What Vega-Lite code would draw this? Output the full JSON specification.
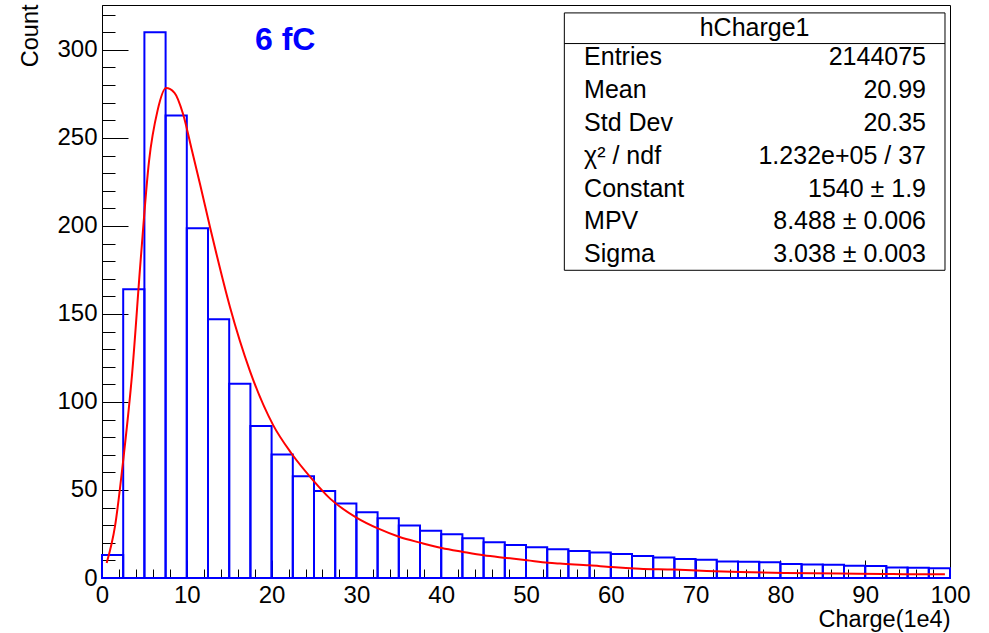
{
  "$schema": "https://vega.github.io/schema/vega-lite/v6.json",
  "width": 848,
  "height": 573,
  "autosize": {"type": "none"},
  "padding": {"left": 102, "top": 5, "right": 39, "bottom": 55},
  "background": "white",
  "resolve": {"axis": {"x": "independent", "y": "independent"}},
  "config": {
    "view": {"stroke": "black", "strokeWidth": 1},
    "axis": {
      "grid": false,
      "domainColor": "black",
      "domainWidth": 1,
      "tickColor": "black",
      "tickWidth": 1,
      "labelFont": "Liberation Sans",
      "labelFontSize": 24,
      "labelColor": "black",
      "titleFont": "Liberation Sans",
      "titleFontSize": 23.5,
      "titleFontWeight": "normal",
      "titleColor": "black"
    }
  },
  "datasets": {
    "bins": [
      {"lo": 0, "hi": 2.5, "count": 13},
      {"lo": 2.5, "hi": 5, "count": 164},
      {"lo": 5, "hi": 7.5, "count": 310},
      {"lo": 7.5, "hi": 10, "count": 262.7},
      {"lo": 10, "hi": 12.5, "count": 198.7},
      {"lo": 12.5, "hi": 15, "count": 147},
      {"lo": 15, "hi": 17.5, "count": 110.3},
      {"lo": 17.5, "hi": 20, "count": 86.3},
      {"lo": 20, "hi": 22.5, "count": 70.2},
      {"lo": 22.5, "hi": 25, "count": 57.8},
      {"lo": 25, "hi": 27.5, "count": 49.4},
      {"lo": 27.5, "hi": 30, "count": 42.3},
      {"lo": 30, "hi": 32.5, "count": 37.3},
      {"lo": 32.5, "hi": 35, "count": 33.9},
      {"lo": 35, "hi": 37.5, "count": 29.8},
      {"lo": 37.5, "hi": 40, "count": 26.9},
      {"lo": 40, "hi": 42.5, "count": 24.9},
      {"lo": 42.5, "hi": 45, "count": 22.6},
      {"lo": 45, "hi": 47.5, "count": 20.3},
      {"lo": 47.5, "hi": 50, "count": 18.8},
      {"lo": 50, "hi": 52.5, "count": 17.5},
      {"lo": 52.5, "hi": 55, "count": 16.4},
      {"lo": 55, "hi": 57.5, "count": 15.3},
      {"lo": 57.5, "hi": 60, "count": 14.5},
      {"lo": 60, "hi": 62.5, "count": 13.6},
      {"lo": 62.5, "hi": 65, "count": 12.5},
      {"lo": 65, "hi": 67.5, "count": 11.6},
      {"lo": 67.5, "hi": 70, "count": 10.8},
      {"lo": 70, "hi": 72.5, "count": 10.4},
      {"lo": 72.5, "hi": 75, "count": 9.4},
      {"lo": 75, "hi": 77.5, "count": 9.2},
      {"lo": 77.5, "hi": 80, "count": 8.9},
      {"lo": 80, "hi": 82.5, "count": 8.0},
      {"lo": 82.5, "hi": 85, "count": 7.6},
      {"lo": 85, "hi": 87.5, "count": 7.5},
      {"lo": 87.5, "hi": 90, "count": 7.0},
      {"lo": 90, "hi": 92.5, "count": 6.8},
      {"lo": 92.5, "hi": 95, "count": 5.9},
      {"lo": 95, "hi": 97.5, "count": 5.8},
      {"lo": 97.5, "hi": 100, "count": 5.5}
    ],
    "fit": [
      {"x": 0.55, "y": 8.5},
      {"x": 1.55, "y": 29.9},
      {"x": 2.55, "y": 69},
      {"x": 3.55, "y": 116},
      {"x": 4.55, "y": 180},
      {"x": 5.55, "y": 237},
      {"x": 6.55, "y": 265.5},
      {"x": 7.55, "y": 278.3},
      {"x": 8.55, "y": 275.6},
      {"x": 9.55, "y": 263.7},
      {"x": 10.55, "y": 244},
      {"x": 11.55, "y": 224},
      {"x": 12.74, "y": 199.3},
      {"x": 13.55, "y": 183},
      {"x": 15.09, "y": 153.9},
      {"x": 17.45, "y": 117.5},
      {"x": 20.2, "y": 86.7},
      {"x": 22.37, "y": 70.6},
      {"x": 24.9, "y": 55.5},
      {"x": 26.9, "y": 45.1},
      {"x": 30.0, "y": 34.3},
      {"x": 32.6, "y": 28.0},
      {"x": 35.1, "y": 23.3},
      {"x": 37.5, "y": 20.1},
      {"x": 40.06, "y": 17.0},
      {"x": 42.6, "y": 14.8},
      {"x": 45.0, "y": 12.9},
      {"x": 47.7, "y": 11.4},
      {"x": 50.1, "y": 10.1},
      {"x": 52.6, "y": 8.7},
      {"x": 54.0, "y": 8.2},
      {"x": 57.5, "y": 7.2},
      {"x": 60.1, "y": 6.2},
      {"x": 63.4, "y": 5.3},
      {"x": 67.4, "y": 4.8},
      {"x": 71.3, "y": 4.0},
      {"x": 75.2, "y": 3.4},
      {"x": 80.5, "y": 2.8},
      {"x": 87.0, "y": 2.5},
      {"x": 92.1, "y": 2.3},
      {"x": 95.3, "y": 2.1},
      {"x": 99.4, "y": 2.1}
    ]
  },
  "layer": [
    {
      "data": {"name": "bins"},
      "mark": {"type": "rect", "fill": "white", "fillOpacity": 0, "stroke": "#0000ff", "strokeWidth": 2},
      "encoding": {
        "x": {
          "field": "lo", "type": "quantitative",
          "scale": {"domain": [0, 100], "nice": false, "zero": false},
          "axis": {
            "orient": "bottom",
            "title": "Charge(1e4)",
            "values": [0,10,20,30,40,50,60,70,80,90,100],
            "tickSize": -18,
            "labelPadding": 23,
            "labelFlush": false,
            "labelOverlap": false,
            "titleAnchor": "end",
            "titleAlign": "right",
            "titleBaseline": "alphabetic",
            "titleX": 848,
            "titleY": 48
          }
        },
        "x2": {"field": "hi"},
        "y": {
          "field": "count", "type": "quantitative",
          "scale": {"domain": [0, 325.5], "nice": false},
          "axis": {
            "orient": "left",
            "title": "Count",
            "values": [0,50,100,150,200,250,300],
            "tickSize": -26,
            "labelPadding": 31,
            "labelFlush": false,
            "labelOverlap": false,
            "titleAngle": -90,
            "titleAlign": "right",
            "titleBaseline": "alphabetic",
            "titleX": -65,
            "titleY": -1
          }
        },
        "y2": {"datum": 0}
      }
    },
    {
      "data": {"name": "fit"},
      "mark": {"type": "line", "color": "#ff0000", "strokeWidth": 2, "clip": true, "interpolate": "monotone"},
      "encoding": {
        "x": {
          "field": "x", "type": "quantitative",
          "axis": {
            "orient": "bottom",
            "title": null,
            "labels": false,
            "domain": false,
            "values": [2,4,6,8,12,14,16,18,22,24,26,28,32,34,36,38,42,44,46,48,52,54,56,58,62,64,66,68,72,74,76,78,82,84,86,88,92,94,96,98],
            "tickSize": -9
          }
        },
        "y": {
          "field": "y", "type": "quantitative",
          "axis": {
            "orient": "left",
            "title": null,
            "labels": false,
            "domain": false,
            "values": [10,20,30,40,60,70,80,90,110,120,130,140,160,170,180,190,210,220,230,240,260,270,280,290,310,320],
            "tickSize": -13
          }
        }
      }
    },
    {
      "data": {"values": [{"t": "6 fC"}]},
      "mark": {"type": "text", "font": "Liberation Sans", "fontSize": 32, "fontWeight": "bold", "color": "#0000ff", "align": "center", "baseline": "middle"},
      "encoding": {"x": {"datum": 21.6, "axis": null}, "y": {"datum": 305.5, "axis": null}, "text": {"field": "t"}}
    },
    {
      "data": {"values": [{"t": "hCharge1"}]},
      "layer": [
        {
          "mark": {"type": "rect", "fill": "white", "stroke": "black", "strokeWidth": 1},
          "encoding": {"x": {"datum": 54.52, "axis": null}, "x2": {"datum": 99.41}, "y": {"datum": 321.0, "axis": null}, "y2": {"datum": 174.8}}
        },
        {
          "mark": {"type": "rule", "color": "black", "strokeWidth": 1},
          "encoding": {"x": {"datum": 54.52, "axis": null}, "x2": {"datum": 99.41}, "y": {"datum": 303.6, "axis": null}}
        },
        {
          "mark": {"type": "text", "font": "Liberation Sans", "fontSize": 25, "color": "black", "align": "center", "baseline": "alphabetic"},
          "encoding": {"x": {"datum": 76.96, "axis": null}, "y": {"datum": 307.9, "axis": null}, "text": {"field": "t"}}
        }
      ]
    },
    {
      "data": {"values": [{"label": "Entries", "value": "2144075"}]},
      "layer": [
        {"mark": {"type": "text", "font": "Liberation Sans", "fontSize": 25, "color": "black", "align": "left", "baseline": "alphabetic"},
         "encoding": {"x": {"datum": 56.85, "axis": null}, "y": {"datum": 291.3, "axis": null}, "text": {"field": "label"}}},
        {"mark": {"type": "text", "font": "Liberation Sans", "fontSize": 25, "color": "black", "align": "right", "baseline": "alphabetic"},
         "encoding": {"x": {"datum": 97.17, "axis": null}, "y": {"datum": 291.3, "axis": null}, "text": {"field": "value"}}}
      ]
    },
    {
      "data": {"values": [{"label": "Mean", "value": "20.99"}]},
      "layer": [
        {"mark": {"type": "text", "font": "Liberation Sans", "fontSize": 25, "color": "black", "align": "left", "baseline": "alphabetic"},
         "encoding": {"x": {"datum": 56.85, "axis": null}, "y": {"datum": 272.6, "axis": null}, "text": {"field": "label"}}},
        {"mark": {"type": "text", "font": "Liberation Sans", "fontSize": 25, "color": "black", "align": "right", "baseline": "alphabetic"},
         "encoding": {"x": {"datum": 97.17, "axis": null}, "y": {"datum": 272.6, "axis": null}, "text": {"field": "value"}}}
      ]
    },
    {
      "data": {"values": [{"label": "Std Dev", "value": "20.35"}]},
      "layer": [
        {"mark": {"type": "text", "font": "Liberation Sans", "fontSize": 25, "color": "black", "align": "left", "baseline": "alphabetic"},
         "encoding": {"x": {"datum": 56.85, "axis": null}, "y": {"datum": 254.0, "axis": null}, "text": {"field": "label"}}},
        {"mark": {"type": "text", "font": "Liberation Sans", "fontSize": 25, "color": "black", "align": "right", "baseline": "alphabetic"},
         "encoding": {"x": {"datum": 97.17, "axis": null}, "y": {"datum": 254.0, "axis": null}, "text": {"field": "value"}}}
      ]
    },
    {
      "data": {"values": [{"label": "χ² / ndf", "value": "1.232e+05 / 37"}]},
      "layer": [
        {"mark": {"type": "text", "font": "Liberation Sans", "fontSize": 25, "color": "black", "align": "left", "baseline": "alphabetic"},
         "encoding": {"x": {"datum": 56.85, "axis": null}, "y": {"datum": 235.3, "axis": null}, "text": {"field": "label"}}},
        {"mark": {"type": "text", "font": "Liberation Sans", "fontSize": 25, "color": "black", "align": "right", "baseline": "alphabetic"},
         "encoding": {"x": {"datum": 97.17, "axis": null}, "y": {"datum": 235.3, "axis": null}, "text": {"field": "value"}}}
      ]
    },
    {
      "data": {"values": [{"label": "Constant", "value": "1540 ± 1.9"}]},
      "layer": [
        {"mark": {"type": "text", "font": "Liberation Sans", "fontSize": 25, "color": "black", "align": "left", "baseline": "alphabetic"},
         "encoding": {"x": {"datum": 56.85, "axis": null}, "y": {"datum": 216.7, "axis": null}, "text": {"field": "label"}}},
        {"mark": {"type": "text", "font": "Liberation Sans", "fontSize": 25, "color": "black", "align": "right", "baseline": "alphabetic"},
         "encoding": {"x": {"datum": 97.17, "axis": null}, "y": {"datum": 216.7, "axis": null}, "text": {"field": "value"}}}
      ]
    },
    {
      "data": {"values": [{"label": "MPV", "value": "8.488 ± 0.006"}]},
      "layer": [
        {"mark": {"type": "text", "font": "Liberation Sans", "fontSize": 25, "color": "black", "align": "left", "baseline": "alphabetic"},
         "encoding": {"x": {"datum": 56.85, "axis": null}, "y": {"datum": 198.1, "axis": null}, "text": {"field": "label"}}},
        {"mark": {"type": "text", "font": "Liberation Sans", "fontSize": 25, "color": "black", "align": "right", "baseline": "alphabetic"},
         "encoding": {"x": {"datum": 97.17, "axis": null}, "y": {"datum": 198.1, "axis": null}, "text": {"field": "value"}}}
      ]
    },
    {
      "data": {"values": [{"label": "Sigma", "value": "3.038 ± 0.003"}]},
      "layer": [
        {"mark": {"type": "text", "font": "Liberation Sans", "fontSize": 25, "color": "black", "align": "left", "baseline": "alphabetic"},
         "encoding": {"x": {"datum": 56.85, "axis": null}, "y": {"datum": 179.4, "axis": null}, "text": {"field": "label"}}},
        {"mark": {"type": "text", "font": "Liberation Sans", "fontSize": 25, "color": "black", "align": "right", "baseline": "alphabetic"},
         "encoding": {"x": {"datum": 97.17, "axis": null}, "y": {"datum": 179.4, "axis": null}, "text": {"field": "value"}}}
      ]
    }
  ]
}
